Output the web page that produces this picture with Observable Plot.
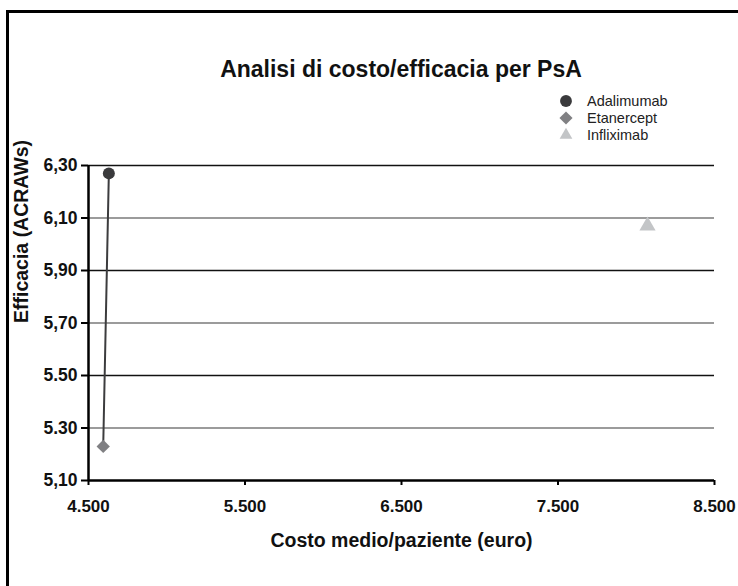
<!DOCTYPE html>
<html>
<head>
<meta charset="utf-8">
<script src="https://cdn.jsdelivr.net/npm/d3@7"></script>
<script src="https://cdn.jsdelivr.net/npm/@observablehq/plot@0.6"></script>
<style>
  html, body { margin: 0; padding: 0; background: #fff; overflow: hidden; }
  #wrap { position: relative; width: 738px; height: 586px; overflow: hidden; font-family: "Liberation Sans", Arial, Helvetica, sans-serif; }
  /* outer box: only its top and left sides fall inside the page */
  #frame { position: absolute; left: 6px; top: 10px; width: 732px; height: 576px; border-top: 3px solid #000; border-left: 3px solid #000; box-sizing: border-box; }
  #title { position: absolute; left: 0; width: 802px; top: 56px; text-align: center; font-weight: bold; font-size: 23px; color: #111; }
  #legend { position: absolute; left: 558px; top: 92px; font-size: 14.5px; color: #222; }
  #legend .row { display: flex; align-items: center; height: 17px; }
  #legend svg { width: 16px; height: 16px; margin-right: 13px; }
  #chart { position: absolute; left: 0; top: 0; }
  #chart svg { overflow: visible; }
  #chart g[aria-label="x-axis tick label"] text,
  #chart g[aria-label="y-axis tick label"] text { font-weight: bold; }
</style>
</head>
<body>
<div id="wrap">
  <div id="frame"></div>
  <div id="chart"></div>
  <div id="title">Analisi di costo/efficacia per PsA</div>
  <div id="legend"></div>
</div>
<script>
// Treatments, mean cost per patient (euro) and efficacy (ACRAWs)
const drugs = ["Adalimumab", "Etanercept", "Infliximab"];
const costs = [4630, 4594, 8072];
const efficacy = [6.27, 5.23, 6.07];

// Axis ticks and their printed labels
const xTicks = [4500, 5500, 6500, 7500, 8500];
const xTickLabels = ["4.500", "5.500", "6.500", "7.500", "8.500"];
const yTicks = [5.10, 5.30, 5.50, 5.70, 5.90, 6.10, 6.30];
const yTickLabels = ["5,10", "5.30", "5.50", "5,70", "5,90", "6,10", "6,30"];

const colors = ["#3a3a3c", "#808083", "#c3c5c7"];
const symbols = ["circle", "diamond2", "triangle"];

const rows = drugs.map((d, i) => ({drug: d, cost: costs[i], eff: efficacy[i]}));
const gridLines = yTicks.slice(1);

const chart = Plot.plot({
  width: 738,
  height: 586,
  marginLeft: 88,
  marginRight: 24,
  marginTop: 165,
  marginBottom: 106,
  style: {fontFamily: "'Liberation Sans', Arial, Helvetica, sans-serif", background: "transparent", color: "#111"},
  x: {domain: [4500, 8500], axis: null},
  y: {domain: [5.10, 6.30], axis: null},
  color: {domain: drugs, range: colors},
  symbol: {domain: drugs, range: symbols},
  marks: [
    // horizontal gridlines, alternating dark and mid grey
    Plot.ruleY(gridLines, {
      x1: 4500, x2: 8500,
      stroke: (d, i) => (i % 2 === 0 ? "#7a7a7a" : "#111"),
      strokeWidth: 1.3
    }),
    Plot.axisY({
      ticks: yTicks,
      tickFormat: (d) => yTickLabels[yTicks.indexOf(d)],
      label: null,
      tickSize: 7,
      tickPadding: 4,
      fontSize: 17.5,
      strokeWidth: 2,
      stroke: "#000"
    }),
    Plot.axisX({
      ticks: xTicks,
      tickFormat: (d) => xTickLabels[xTicks.indexOf(d)],
      label: null,
      tickSize: 5,
      tickPadding: 14,
      fontSize: 17,
      strokeWidth: 2,
      stroke: "#000"
    }),
    Plot.ruleX([4500], {strokeWidth: 2.5, stroke: "#000"}),
    Plot.ruleY([5.10], {strokeWidth: 2.5, stroke: "#000"}),
    Plot.text(["Costo medio/paziente (euro)"], {
      frameAnchor: "bottom", dy: 66, fontSize: 19.5, fontWeight: "bold", fill: "#111"
    }),
    Plot.text(["Efficacia (ACRAWs)"], {
      frameAnchor: "left", dx: -67, rotate: -90, fontSize: 19.5, fontWeight: "bold", fill: "#111"
    }),
    // segment joining Adalimumab and Etanercept
    Plot.line(rows.slice(0, 2), {x: "cost", y: "eff", stroke: "#3c3c3e", strokeWidth: 2}),
    Plot.dot(rows, {x: "cost", y: "eff", symbol: "drug", fill: "drug", r: 6})
  ]
});
document.getElementById("chart").appendChild(chart);

// Legend
const legend = document.getElementById("legend");
drugs.forEach((d, i) => {
  const row = document.createElement("div");
  row.className = "row";
  const sym = d3.symbol(i === 0 ? d3.symbolCircle : i === 1 ? d3.symbolDiamond2 : d3.symbolTriangle, i === 2 ? 70 : 110)();
  row.innerHTML = `<svg viewBox="-8 -8 16 16"><path d="${sym}" fill="${colors[i]}"></path></svg><span>${d}</span>`;
  legend.appendChild(row);
});
</script>
</body>
</html>
